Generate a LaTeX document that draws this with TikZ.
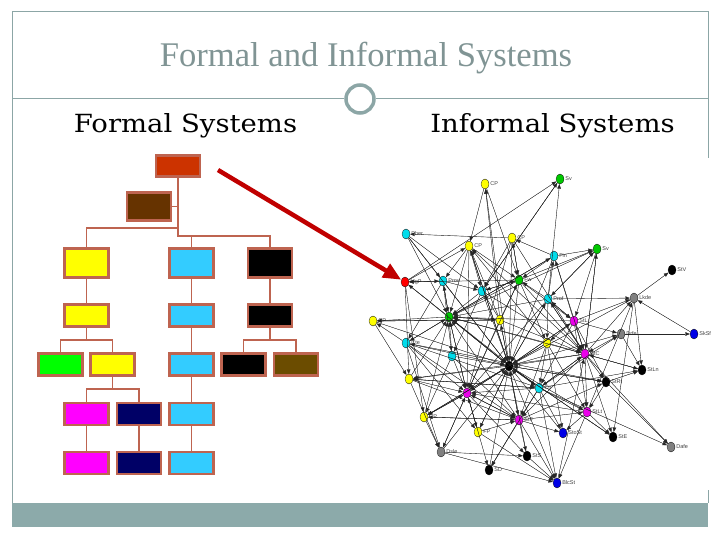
\documentclass[tikz,border=0pt]{standalone}
\usepackage{fontspec}
\setmainfont{Liberation Serif}
\newfontfamily\subfont[FakeStretch=1.1]{DejaVu Serif}
\newfontfamily\netfont{Liberation Sans}
\usetikzlibrary{arrows.meta,shapes.geometric}
\definecolor{framecol}{RGB}{140,166,166}
\definecolor{bandcol}{RGB}{140,170,170}
\definecolor{titlegray}{RGB}{128,148,148}
\definecolor{boxline}{RGB}{190,100,80}
\definecolor{orgred}{RGB}{204,51,0}
\definecolor{orgbrown}{RGB}{102,51,0}
\definecolor{orgolive}{RGB}{107,76,0}
\definecolor{orgcyan}{RGB}{51,204,255}
\definecolor{orgnavy}{RGB}{0,0,102}
\definecolor{orggreen}{RGB}{0,255,0}
\definecolor{orgyellow}{RGB}{255,255,0}
\definecolor{orgmag}{RGB}{255,0,255}
\definecolor{arrowred}{RGB}{192,0,0}
\definecolor{netyellow}{RGB}{255,255,0}
\definecolor{netgreen}{RGB}{0,200,0}
\definecolor{netcyan}{RGB}{0,220,235}
\definecolor{netred}{RGB}{255,0,0}
\definecolor{netmag}{RGB}{235,0,235}
\definecolor{netgray}{RGB}{128,128,128}
\definecolor{netblue}{RGB}{0,0,230}
\definecolor{netblack}{RGB}{0,0,0}
\begin{document}
\begin{tikzpicture}[x=1pt, y=-1pt, thick]
\tikzstyle{box} = [draw=boxline, line width=2.6pt, minimum width=44pt, minimum height=22pt, inner sep=0pt]
\tikzstyle{wire} = [draw=boxline, line width=1.2pt]
\tikzstyle{agent} = [ellipse, draw=black, line width=0.3pt, minimum width=8pt, minimum height=10pt, inner sep=0pt]
\tikzstyle{lbl} = [font=\netfont\fontsize{5.5}{6}\selectfont, text=black!75, inner sep=0.8pt]
\tikzstyle{link} = [-{Triangle[length=4.5pt,width=3.6pt]}, line width=0.35pt, draw=black!85, fill=black]
\useasboundingbox (0,0) rectangle (720,540);
% slide frame
\draw[framecol, line width=1pt] (12,503) -- (12,12) -- (708,12) -- (708,158);
\draw[framecol, line width=1pt] (708,490) -- (708,503);
\fill[bandcol] (12,503) rectangle (708,527);
\node[circle, draw=framecol, line width=3.5pt, minimum size=28pt, inner sep=0pt] (ring) at (360,99) {};
\coordinate (lft) at (12,99);
\coordinate (rgt) at (708,99);
\draw[framecol, line width=1pt] (lft) -- (ring) -- (rgt);
\node[anchor=base, text=titlegray, font=\fontsize{34.6}{40}\selectfont] (title) at (366,67) {Formal and Informal Systems};
\node[anchor=base, font=\subfont\fontsize{25}{30}\selectfont] (formal) at (185.5,133) {Formal Systems};
\node[anchor=base, font=\subfont\fontsize{25}{30}\selectfont] (informal) at (552.5,133) {Informal Systems};
% org chart
\node[box, fill=orgred, minimum height=21pt] (top) at (178,166) {};
\node[box, fill=orgbrown, minimum height=28pt] (mgr) at (149,206.5) {};
\node[box, fill=orgyellow, minimum height=29pt] (y1) at (86.5,263) {};
\node[box, fill=orgcyan, minimum height=29pt] (c1) at (191.5,263) {};
\node[box, fill=black, minimum height=29pt] (k1) at (270,263) {};
\node[box, fill=orgyellow] (y2) at (86.5,315.5) {};
\node[box, fill=orgcyan] (c2) at (191.5,315.5) {};
\node[box, fill=black] (k2) at (270,315.5) {};
\node[box, fill=orggreen] (g3) at (60.5,364.5) {};
\node[box, fill=orgyellow] (y3) at (112.5,364.5) {};
\node[box, fill=orgcyan] (c3) at (191.5,364.5) {};
\node[box, fill=black] (k3) at (243.5,364.5) {};
\node[box, fill=orgolive] (o3) at (296,364.5) {};
\node[box, fill=orgmag] (m4) at (86.5,414) {};
\node[box, fill=orgnavy] (n4) at (139,414) {};
\node[box, fill=orgcyan] (c4) at (191.5,414) {};
\node[box, fill=orgmag] (m5) at (86.5,463) {};
\node[box, fill=orgnavy] (n5) at (139,463) {};
\node[box, fill=orgcyan] (c5) at (191.5,463) {};
\coordinate (j1) at (178,228);
\coordinate (j2) at (178,236);
\coordinate (j3) at (86.5,340);
\coordinate (j4) at (270,340);
\coordinate (j5) at (112.5,389);
\draw[wire] (top) -- (j2) -| (k1);
\draw[wire] (j2) -| (c1);
\draw[wire] (j1) -| (y1);
\draw[wire] (mgr) -- (mgr -| top);
\draw[wire] (y1) -- (y2);
\draw[wire] (k1) -- (k2);
\draw[wire] (c1) -- (c2);
\draw[wire] (c2) -- (c3);
\draw[wire] (c3) -- (c4);
\draw[wire] (c4) -- (c5);
\draw[wire] (y2) -- (j3);
\draw[wire] (g3.north) |- (j3) -| (y3.north);
\draw[wire] (k2) -- (j4);
\draw[wire] (k3.north) |- (j4) -| (o3.north);
\draw[wire] (y3) -- (j5);
\draw[wire] (m4.north) |- (j5) -| (n4.north);
\draw[wire] (m4) -- (m5);
\draw[wire] (n4) -- (n5);
% network
\foreach \n/\x/\y/\col/\lab in {
  1/485/184/netyellow/CP, 2/560/179/netgreen/Sv, 3/406/234/netcyan/Pher,
  4/512/238/netyellow/CP, 5/469/246/netyellow/CP, 6/597/249/netgreen/Sv,
  7/554/256/netcyan/Fin, 8/672/270/netblack/StV, 9/405/282/netred/MgP,
  10/443/281/netcyan/Prov, 11/482/291/netcyan/, 12/519/280/netgreen/Fw,
  13/548/299/netcyan/Prof, 14/634/298/netgray/Lkde, 15/373/321/netyellow/CP,
  16/449/317/netgreen/Gv, 17/500/320/netyellow/, 18/574/321/netmag/StL,
  19/621/334/netgray/Drfe, 20/694/334/netblue/SkSf, 21/406/343/netcyan/Cte,
  22/547/343/netyellow/, 23/452/356/netcyan/, 24/585/354/netmag/StC,
  25/509/366/netblack/Ld, 26/642/370/netblack/StLn, 27/606/382/netblack/StRt,
  28/409/379/netyellow/CP, 29/539/388/netcyan/Ctr, 30/467/393/netmag/,
  31/587/412/netmag/StLt, 32/424/417/netyellow/CP, 33/519/420/netmag/StF,
  34/478/432/netyellow/FP, 35/563/433/netblue/StoSt, 36/613/437/netblack/StE,
  37/671/447/netgray/Dafe, 38/441/452/netgray/Dsle, 39/527/456/netblack/StS,
  40/489/470/netblack/SD, 41/557/483/netblue/BlcSt}
  \node[agent, fill=\col, label={[lbl]right:\lab}] (\n) at (\x,\y) {};
\foreach \a/\b in {17/1, 25/1, 9/2, 13/2, 11/2, 4/3, 3/16, 7/6, 13/6, 16/6,
  24/6, 12/6, 14/8, 13/14, 24/14, 20/14, 31/14, 18/14, 14/26, 18/19,
  25/19, 19/20, 19/26, 29/19, 24/26, 27/26, 29/26, 24/27, 25/27, 18/27,
  33/27, 21/27, 24/36, 25/36, 31/36, 14/36, 27/37, 24/37, 29/37, 29/35,
  31/35, 33/35, 22/35, 33/41, 29/41, 39/41, 31/41, 34/41, 38/41, 25/41,
  30/40, 33/40, 29/40, 32/38, 30/38, 28/38, 21/38, 38/39, 33/39, 30/39,
  16/15, 17/15, 10/9, 16/9, 12/9, 9/32, 25/21, 16/21, 10/21, 24/28,
  25/28, 29/28, 30/32, 33/32, 23/32, 22/32, 30/34, 25/34, 21/34, 5/16,
  10/16, 11/16, 17/16, 23/16, 25/16, 12/16, 13/16, 30/16, 21/16, 4/25,
  5/25, 11/25, 12/25, 13/25, 16/25, 17/25, 22/25, 24/25, 29/25, 30/25,
  33/25, 23/25, 18/25, 7/25, 7/24, 12/24, 13/24, 17/24, 18/24, 22/24,
  29/24, 4/24, 6/24, 11/24, 23/30, 21/30, 25/30, 28/30, 17/30, 16/30,
  32/30, 29/30, 33/30, 34/30, 5/11, 10/11, 12/11, 3/11, 17/11, 4/11,
  4/12, 7/12, 11/12, 13/12, 17/12, 5/12, 1/12, 9/5, 17/5, 25/5,
  24/5, 22/5, 12/4, 7/4, 13/7, 16/7, 18/7, 18/13, 24/13, 25/13,
  16/17, 25/17, 13/18, 12/18, 25/18, 6/18, 12/22, 18/22, 13/22, 10/23,
  11/23, 25/29, 24/29, 22/29, 18/29, 24/31, 29/31, 25/31, 18/31, 33/31,
  22/31, 27/31, 25/33, 29/33, 30/33, 22/33, 34/33, 24/33, 9/10, 16/10,
  5/10, 15/28, 21/15, 9/28, 3/10, 9/25, 3/25, 21/33, 28/33, 32/33,
  15/25, 38/25, 40/25, 39/25, 41/24, 35/25, 36/25, 27/25, 26/24, 14/25,
  19/24, 6/13, 2/11, 1/5, 34/25, 32/25, 23/33, 28/29, 21/29, 10/25,
  5/30, 4/30, 12/30, 13/30, 31/30, 29/16, 33/16, 22/16, 24/16, 18/16,
  7/16, 15/17, 28/16, 32/16, 38/30}
  \draw[link] (\a) -- (\b);
% big arrow
\coordinate (tail) at (218,170);
\draw[-{Triangle[length=18pt,width=15pt]}, line width=4.5pt, arrowred] (tail) -- (9);
\end{tikzpicture}
\end{document}
